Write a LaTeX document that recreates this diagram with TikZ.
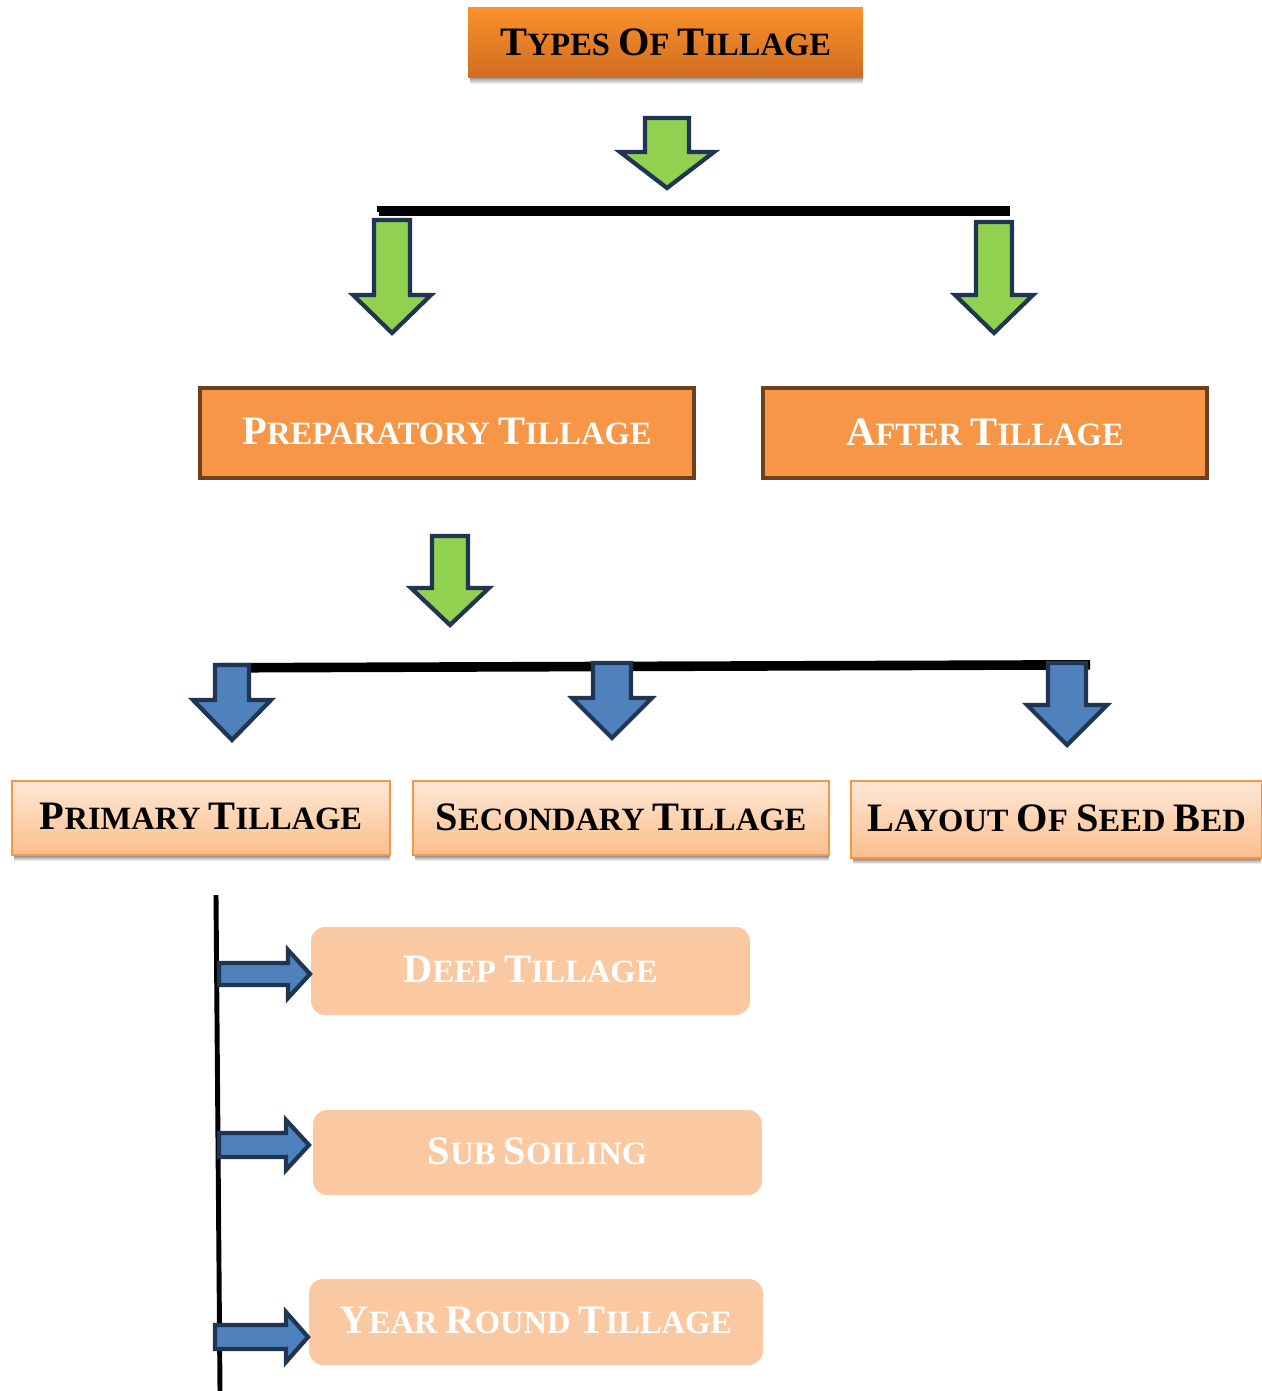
\documentclass[tikz,border=0pt]{standalone}
\usepackage{fontspec}
\setmainfont{Liberation Serif}

\definecolor{leaf}{HTML}{92D050}
\definecolor{navy}{HTML}{1F3552}
\definecolor{steel}{HTML}{4F81BD}
\definecolor{tangerine}{HTML}{F79646}
\definecolor{bark}{HTML}{6E401C}
\definecolor{peach}{HTML}{FAC9A1}
\definecolor{peachtop}{HTML}{FFE8D6}
\definecolor{peachbot}{HTML}{FBBE8C}
\definecolor{shade}{HTML}{A6A6A6}
\definecolor{titletop}{HTML}{FA912C}
\definecolor{titlebot}{HTML}{CF6C20}

% caps label with a larger initial letter per word
\newcommand\Ini[1]{{\fontsize{23}{26}\selectfont #1}}
\newcommand\Rst[1]{{\fontsize{18.5}{26}\selectfont #1}}
\newcommand\Gap{{\fontsize{18.5}{26}\selectfont\ }}

% block arrow pointing down: style, centre x, shaft half, head half, top, neck, tip
\newcommand\DArrow[7]{\draw[#1] ({#2-#3},#5) -- ({#2+#3},#5) -- ({#2+#3},#6) -- ({#2+#4},#6) -- (#2,#7) -- ({#2-#4},#6) -- ({#2-#3},#6) -- cycle;}
% block arrow pointing right: style, centre y, shaft half, head half, left, neck, tip
\newcommand\RArrow[7]{\draw[#1] (#5,{#2-#3}) -- (#6,{#2-#3}) -- (#6,{#2-#4}) -- (#7,#2) -- (#6,{#2+#4}) -- (#6,{#2+#3}) -- (#5,{#2+#3}) -- cycle;}

\tikzset{
  greenarrow/.style={fill=leaf, draw=navy, line width=2.4pt, line join=miter},
  bluearrow/.style={fill=steel, draw=navy, line width=2.4pt, line join=miter},
  barline/.style={line width=3.4pt, black},
  barshadow/.style={line width=3pt, shade},
  anybox/.style={inner sep=0pt, outer sep=0pt, font=\bfseries, text depth=1.5pt},
  titlebox/.style={anybox, top color=titletop, bottom color=titlebot, draw=none, text=black},
  mainbox/.style={anybox, fill=tangerine, draw=bark, line width=2.3pt, text=white},
  subbox/.style={anybox, top color=peachtop, bottom color=peachbot, draw=tangerine, line width=1.1pt, text=black},
  leafbox/.style={anybox, fill=peach, draw=none, rounded corners=8pt, text=white},
}

\begin{document}
\begin{tikzpicture}[x=0.02cm, y=-0.02cm]
\useasboundingbox (0,0) rectangle (1261,1391);

% title
\fill[shade] (470,76) rectangle (863,84);
\node[titlebox, minimum width=7.9cm, minimum height=1.4cm] (title) at (665.5,43)
  {\Ini{T}\Rst{YPES}\Gap\Ini{O}\Rst{F}\Gap\Ini{T}\Rst{ILLAGE}};

% first split
\DArrow{greenarrow}{667}{22}{47}{118}{152}{188}
\draw[barshadow] (379,213) -- (1010,213);
\draw[barline] (377,209) coordinate (b1l) -- (1010,209) coordinate (b1r);
\DArrow{greenarrow}{392}{18}{39}{220}{295}{333}
\DArrow{greenarrow}{994}{18}{39}{222}{295}{333}

\node[mainbox, minimum width=9.88cm, minimum height=1.8cm] (prep) at (447,433)
  {\Ini{P}\Rst{REPARATORY}\Gap\Ini{T}\Rst{ILLAGE}};
\node[mainbox, minimum width=8.88cm, minimum height=1.8cm] (after) at (985,433)
  {\Ini{A}\Rst{FTER}\Gap\Ini{T}\Rst{ILLAGE}};

% second split
\DArrow{greenarrow}{450}{18}{39}{536}{588}{625}
\draw[barshadow] (218,670) -- (1090,667);
\draw[barline] (216,666) coordinate (b2l) -- (1090,663) coordinate (b2r);
\DArrow{bluearrow}{232}{17}{39}{665}{700}{740}
\DArrow{bluearrow}{612}{19}{40}{663}{698}{738}
\DArrow{bluearrow}{1067}{19}{40}{663}{705}{745}

\fill[shade] (14,855) rectangle (390,861);
\fill[shade] (415,855) rectangle (829,861);
\fill[shade] (853,858) rectangle (1261,864);
\node[subbox, minimum width=7.56cm, minimum height=1.48cm] (primary) at (201,818)
  {\Ini{P}\Rst{RIMARY}\Gap\Ini{T}\Rst{ILLAGE}};
\node[subbox, minimum width=8.32cm, minimum height=1.48cm] (secondary) at (621,818)
  {\Ini{S}\Rst{ECONDARY}\Gap\Ini{T}\Rst{ILLAGE}};
\node[subbox, minimum width=8.22cm, minimum height=1.54cm] (layout) at (1056.5,819.5)
  {\Ini{L}\Rst{AYOUT}\Gap\Ini{O}\Rst{F}\Gap\Ini{S}\Rst{EED}\Gap\Ini{B}\Rst{ED}};

% primary tillage branches
\draw[line width=2.8pt, black] (216,895) coordinate (vtop) -- (220,1391) coordinate (vbot);
\node[leafbox, minimum width=8.78cm, minimum height=1.76cm] (deep) at (530.5,971)
  {\Ini{D}\Rst{EEP}\Gap\Ini{T}\Rst{ILLAGE}};
\node[leafbox, minimum width=8.98cm, minimum height=1.7cm] (sub) at (537.5,1152.5)
  {\Ini{S}\Rst{UB}\Gap\Ini{S}\Rst{OILING}};
\node[leafbox, minimum width=9.08cm, minimum height=1.72cm] (year) at (536,1322)
  {\Ini{Y}\Rst{EAR}\Gap\Ini{R}\Rst{OUND}\Gap\Ini{T}\Rst{ILLAGE}};

\RArrow{bluearrow}{974}{11}{24}{219}{288}{310}
\RArrow{bluearrow}{1145}{12}{25}{219}{286}{309}
\RArrow{bluearrow}{1337}{12}{25}{215}{286}{308}
\end{tikzpicture}
\end{document}
